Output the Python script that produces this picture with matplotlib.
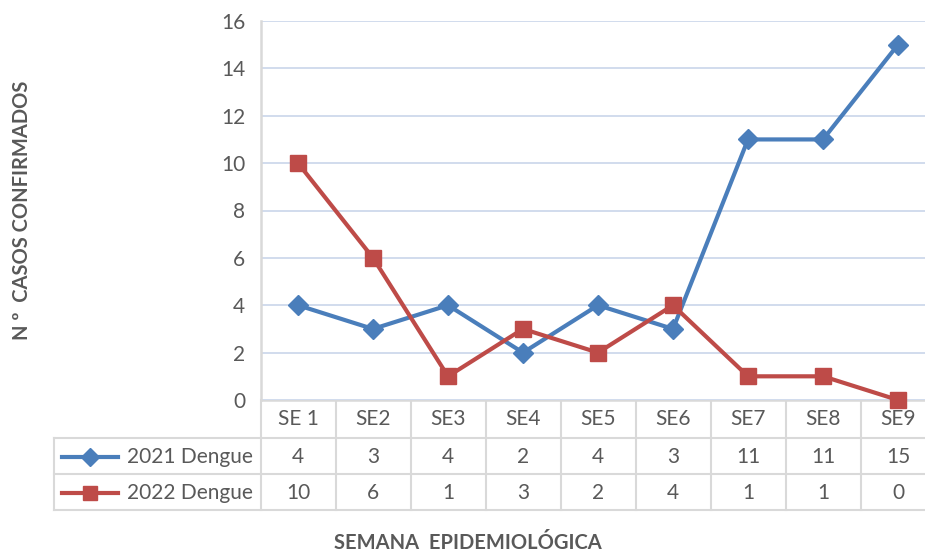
import matplotlib
matplotlib.use("Agg")
import matplotlib.pyplot as plt
from matplotlib.transforms import blended_transform_factory
from matplotlib.lines import Line2D

categories = ["SE 1", "SE2", "SE3", "SE4", "SE5", "SE6", "SE7", "SE8", "SE9"]
dengue_2021 = [4, 3, 4, 2, 4, 3, 11, 11, 15]
dengue_2022 = [10, 6, 1, 3, 2, 4, 1, 1, 0]
series_names = ["2021 Dengue", "2022 Dengue"]
yticks = [0, 2, 4, 6, 8, 10, 12, 14, 16]

plt.rcParams['font.family'] = ['Lato', 'DejaVu Sans']
TXT = '#595959'
BLUE = '#4A7EBB'
RED = '#BE4B48'
GRID = '#C9D6EA'
BORDER = '#D9D9D9'
FS = 15

W, H = 925, 552
fig = plt.figure(figsize=(W/100, H/100), dpi=100)

axp = fig.add_axes([0, 0, 1, 1])
axp.set_xlim(0, W)
axp.set_ylim(H, 0)
axp.axis('off')

left, right, top, bottom = 260.5, 935.5, 21, 400
ax = fig.add_axes([left/W, (H-bottom)/H, (right-left)/W, (bottom-top)/H])
ax.set_xlim(-0.5, len(categories)-0.5)
ax.set_ylim(0, 16)
ax.set_yticks(yticks)
ax.set_yticklabels([str(v) for v in yticks], color=TXT, fontsize=FS)
ax.tick_params(axis='y', length=0, pad=11)
ax.set_xticks([])
for s in ['top', 'right', 'bottom']:
    ax.spines[s].set_visible(False)
ax.spines['left'].set_color(BORDER)
ax.spines['left'].set_linewidth(1.8)
ax.grid(axis='y', color=GRID, linewidth=1.2)
ax.set_axisbelow(True)

x = list(range(len(categories)))
ax.plot(x, dengue_2021, color=BLUE, lw=3, marker='D', ms=10, zorder=3, clip_on=False)
ax.plot(x, dengue_2022, color=RED, lw=3, marker='s', ms=11, zorder=4, clip_on=False)

tr = blended_transform_factory(ax.transData, axp.transData)
n = len(categories)
lk = dict(color=BORDER, lw=1.5, clip_on=False)
axp.add_line(Line2D([-0.5, n-0.5], [400, 400], transform=tr, color='#D9D9D9', lw=1.8, clip_on=False))
for b in range(n+1):
    axp.add_line(Line2D([b-0.5, b-0.5], [400, 510], transform=tr, **lk))
for yy in [438, 474, 510]:
    axp.add_line(Line2D([54, 935], [yy, yy], **lk))
axp.add_line(Line2D([54, 54], [438, 510], **lk))

for i, c in enumerate(categories):
    axp.text(i, 419, c, transform=tr, ha='center', va='center', fontsize=FS, color=TXT)
    axp.text(i, 457, str(dengue_2021[i]), transform=tr, ha='center', va='center', fontsize=FS, color=TXT)
    axp.text(i, 493, str(dengue_2022[i]), transform=tr, ha='center', va='center', fontsize=FS, color=TXT)

axp.add_line(Line2D([62, 118], [457, 457], color=BLUE, lw=3))
axp.plot([90], [457], marker='D', ms=9, color=BLUE)
axp.add_line(Line2D([62, 118], [493, 493], color=RED, lw=3))
axp.plot([90], [493], marker='s', ms=10, color=RED)
axp.text(127, 457, series_names[0], ha='left', va='center', fontsize=FS, color=TXT)
axp.text(127, 493, series_names[1], ha='left', va='center', fontsize=FS, color=TXT)

axp.text(22, 210, "N º  CASOS CONFIRMADOS", rotation=90, ha='center', va='center',
         fontsize=14.5, fontweight='bold', color=TXT)
axp.text(468, 543, "SEMANA  EPIDEMIOLÓGICA", ha='center', va='center',
         fontsize=14.5, fontweight='bold', color=TXT)

fig.savefig("out.png", dpi=100)
